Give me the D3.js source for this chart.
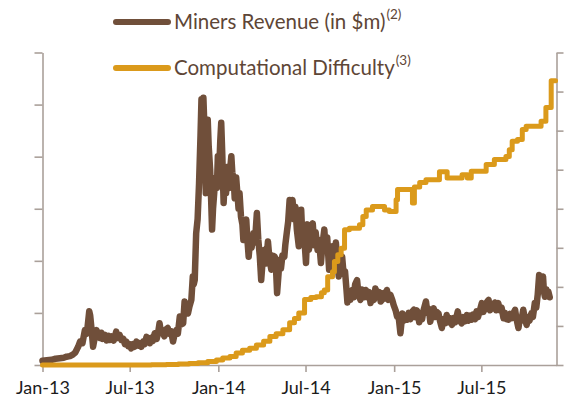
<!DOCTYPE html>
<html>
<head>
<meta charset="utf-8">
<script src="https://cdn.jsdelivr.net/npm/d3@7"></script>
<style>
  body { margin: 0; background: #fff; }
  svg { display: block; font-family: Lato, "Open Sans", sans-serif; }
</style>
</head>
<body>
<div id="chart"></div>
<script>
// miners revenue, $m per day (highs and lows of the band)
const revenue = [
  ["2013-01-01",0.08],["2013-01-10",0.09],["2013-01-20",0.10],["2013-01-28",0.12],["2013-02-06",0.13],["2013-02-14",0.14],
  ["2013-02-20",0.16],["2013-02-27",0.17],["2013-03-05",0.20],["2013-03-10",0.24],["2013-03-16",0.35],["2013-03-20",0.45],
  ["2013-03-25",0.42],["2013-03-30",0.67],["2013-04-03",0.60],["2013-04-06",0.85],["2013-04-08",1.03],["2013-04-10",0.95],
  ["2013-04-13",0.67],["2013-04-16",0.35],["2013-04-19",0.50],["2013-04-23",0.67],["2013-04-26",0.55],["2013-04-30",0.52],
  ["2013-05-03",0.62],["2013-05-06",0.50],["2013-05-10",0.58],["2013-05-14",0.47],["2013-05-18",0.56],["2013-05-21",0.48],
  ["2013-05-25",0.55],["2013-05-29",0.47],["2013-06-03",0.64],["2013-06-06",0.52],["2013-06-10",0.58],["2013-06-14",0.48],
  ["2013-06-18",0.50],["2013-06-21",0.40],["2013-06-24",0.45],["2013-06-28",0.36],["2013-07-01",0.40],["2013-07-04",0.32],
  ["2013-07-08",0.40],["2013-07-11",0.35],["2013-07-15",0.45],["2013-07-19",0.37],["2013-07-22",0.42],["2013-07-25",0.35],
  ["2013-07-29",0.45],["2013-08-01",0.40],["2013-08-05",0.54],["2013-08-08",0.45],["2013-08-12",0.42],["2013-08-15",0.52],
  ["2013-08-18",0.46],["2013-08-22",0.61],["2013-08-26",0.50],["2013-08-29",0.62],["2013-09-01",0.80],["2013-09-04",0.62],
  ["2013-09-08",0.61],["2013-09-11",0.55],["2013-09-14",0.68],["2013-09-18",0.71],["2013-09-21",0.60],["2013-09-25",0.65],
  ["2013-09-29",0.45],["2013-10-02",0.58],["2013-10-06",0.67],["2013-10-09",0.60],["2013-10-13",0.93],["2013-10-16",0.78],
  ["2013-10-20",0.80],["2013-10-23",1.22],["2013-10-26",1.05],["2013-10-30",0.99],["2013-11-02",1.12],["2013-11-06",1.25],
  ["2013-11-09",1.70],["2013-11-11",1.55],["2013-11-13",1.63],["2013-11-16",2.53],["2013-11-19",2.80],["2013-11-22",3.49],
  ["2013-11-25",4.40],["2013-11-27",5.10],["2013-11-29",4.80],["2013-12-01",5.13],["2013-12-03",4.60],["2013-12-06",3.30],
  ["2013-12-08",4.10],["2013-12-10",4.71],["2013-12-12",4.20],["2013-12-15",3.75],["2013-12-17",3.20],["2013-12-19",2.60],
  ["2013-12-21",3.00],["2013-12-24",3.37],["2013-12-27",3.60],["2013-12-29",3.40],["2013-12-31",4.01],
  ["2014-01-03",3.80],["2014-01-05",4.30],["2014-01-07",4.65],["2014-01-09",4.10],["2014-01-12",3.11],["2014-01-14",3.50],
  ["2014-01-17",3.30],["2014-01-19",3.80],["2014-01-21",3.69],["2014-01-24",3.40],["2014-01-26",3.80],["2014-01-28",4.01],
  ["2014-01-30",3.70],["2014-02-02",3.56],["2014-02-04",3.20],["2014-02-07",3.60],["2014-02-10",3.24],["2014-02-12",3.00],
  ["2014-02-14",3.30],["2014-02-17",2.85],["2014-02-20",2.70],["2014-02-22",2.40],["2014-02-25",2.70],["2014-02-28",2.79],
  ["2014-03-02",2.45],["2014-03-05",2.08],["2014-03-08",2.40],["2014-03-11",2.25],["2014-03-15",2.53],["2014-03-18",2.35],
  ["2014-03-22",2.92],["2014-03-25",2.40],["2014-03-28",2.10],["2014-03-31",1.63],["2014-04-03",2.00],["2014-04-07",2.21],
  ["2014-04-10",1.95],["2014-04-14",2.37],["2014-04-17",2.05],["2014-04-21",1.83],["2014-04-24",2.10],["2014-04-28",2.08],
  ["2014-05-01",1.80],["2014-05-03",1.38],["2014-05-06",1.75],["2014-05-08",2.02],["2014-05-11",1.85],["2014-05-14",2.10],
  ["2014-05-18",2.08],["2014-05-20",2.30],["2014-05-23",2.53],["2014-05-26",2.75],["2014-05-29",3.17],["2014-06-01",2.90],
  ["2014-06-04",3.17],["2014-06-07",2.80],["2014-06-10",3.04],["2014-06-13",2.60],["2014-06-17",2.28],["2014-06-20",2.70],
  ["2014-06-22",2.98],["2014-06-25",2.34],["2014-06-28",2.50],["2014-07-02",1.96],["2014-07-05",2.70],["2014-07-08",2.21],
  ["2014-07-12",2.50],["2014-07-16",2.72],["2014-07-19",2.30],["2014-07-22",2.55],["2014-07-26",2.21],["2014-07-29",2.40],
  ["2014-08-02",1.96],["2014-08-05",2.30],["2014-08-09",2.60],["2014-08-12",2.20],["2014-08-15",2.45],["2014-08-19",1.83],
  ["2014-08-22",2.15],["2014-08-26",2.28],["2014-08-29",1.95],["2014-09-02",2.35],["2014-09-05",2.00],["2014-09-08",1.70],
  ["2014-09-11",1.95],["2014-09-15",2.08],["2014-09-18",1.75],["2014-09-21",1.80],["2014-09-24",1.45],["2014-09-26",1.20],
  ["2014-09-29",1.40],["2014-10-02",1.25],["2014-10-06",1.44],["2014-10-09",1.30],["2014-10-12",1.55],["2014-10-16",1.63],
  ["2014-10-19",1.35],["2014-10-23",1.25],["2014-10-26",1.45],["2014-10-30",1.30],["2014-11-03",1.44],["2014-11-06",1.30],
  ["2014-11-10",1.40],["2014-11-13",1.19],["2014-11-17",1.35],["2014-11-20",1.25],["2014-11-23",1.47],["2014-11-27",1.30],
  ["2014-12-01",1.40],["2014-12-04",1.22],["2014-12-07",1.25],["2014-12-10",1.38],["2014-12-13",1.28],["2014-12-17",1.44],
  ["2014-12-20",1.25],["2014-12-24",1.35],["2014-12-28",1.25],["2014-12-31",1.15],
  ["2015-01-04",1.05],["2015-01-07",0.93],["2015-01-10",0.95],["2015-01-14",0.61],["2015-01-16",0.80],["2015-01-18",0.99],
  ["2015-01-21",0.85],["2015-01-24",0.95],["2015-01-28",0.87],["2015-01-31",1.00],["2015-02-04",0.88],["2015-02-07",1.02],
  ["2015-02-11",1.06],["2015-02-14",0.92],["2015-02-17",1.05],["2015-02-19",1.00],["2015-02-22",0.82],["2015-02-25",0.95],
  ["2015-02-28",0.88],["2015-03-03",1.05],["2015-03-08",1.22],["2015-03-11",1.00],["2015-03-14",1.08],["2015-03-17",0.83],
  ["2015-03-20",0.98],["2015-03-24",1.09],["2015-03-27",0.92],["2015-03-30",1.02],["2015-04-03",0.99],["2015-04-06",0.85],
  ["2015-04-10",0.71],["2015-04-13",0.88],["2015-04-17",0.80],["2015-04-20",0.96],["2015-04-23",0.82],["2015-04-27",0.90],
  ["2015-05-01",0.77],["2015-05-04",0.90],["2015-05-08",0.82],["2015-05-13",1.03],["2015-05-16",0.88],["2015-05-21",0.80],
  ["2015-05-24",0.92],["2015-05-28",0.84],["2015-06-01",0.96],["2015-06-04",0.85],["2015-06-08",0.95],["2015-06-11",0.87],
  ["2015-06-14",0.97],["2015-06-18",0.88],["2015-06-21",1.03],["2015-06-24",0.92],["2015-06-28",1.05],["2015-07-02",1.19],
  ["2015-07-05",1.02],["2015-07-09",1.09],["2015-07-12",1.20],["2015-07-16",1.25],["2015-07-19",1.05],["2015-07-22",1.15],
  ["2015-07-26",1.09],["2015-07-29",1.20],["2015-08-01",1.05],["2015-08-05",1.19],["2015-08-09",1.05],["2015-08-12",1.10],
  ["2015-08-16",0.90],["2015-08-19",1.00],["2015-08-22",0.88],["2015-08-26",0.87],["2015-08-30",0.98],["2015-09-02",0.90],
  ["2015-09-06",1.00],["2015-09-09",1.06],["2015-09-12",0.88],["2015-09-16",0.71],["2015-09-19",0.90],["2015-09-22",0.85],
  ["2015-09-26",1.06],["2015-09-29",0.90],["2015-10-03",0.77],["2015-10-06",0.92],["2015-10-09",0.85],["2015-10-13",0.99],
  ["2015-10-16",0.92],["2015-10-20",1.19],["2015-10-23",1.10],["2015-10-26",1.35],["2015-10-29",1.73],["2015-11-01",1.60],
  ["2015-11-03",1.51],["2015-11-06",1.70],["2015-11-08",1.40],["2015-11-10",1.31],["2015-11-13",1.45],["2015-11-15",1.35],
  ["2015-11-17",1.41],["2015-11-20",1.30]
];

// computational difficulty, billions (step changes)
const difficulty = [
  ["2013-01-01",0.003],["2013-04-01",0.008],["2013-07-01",0.03],["2013-08-15",0.07],["2013-09-15",0.15],["2013-10-10",0.27],
  ["2013-11-01",0.4],["2013-11-20",0.6],["2013-12-10",0.9],["2013-12-28",1.3],["2014-01-10",1.8],["2014-01-25",2.2],
  ["2014-02-07",3.1],["2014-02-20",3.8],["2014-03-07",4.3],["2014-03-21",5.1],["2014-04-05",6.1],["2014-04-18",7.3],
  ["2014-05-01",8.0],["2014-05-15",9.0],["2014-05-29",10.8],["2014-06-08",11.9],["2014-06-17",13.3],["2014-06-29",16.8],
  ["2014-07-12",17.3],["2014-07-23",17.5],["2014-08-03",18.5],["2014-08-09",19.2],["2014-08-16",22.6],["2014-08-26",23.9],
  ["2014-08-30",26.5],["2014-09-06",28.2],["2014-09-13",29.9],["2014-09-20",34.6],["2014-09-30",35.0],["2014-10-21",35.9],
  ["2014-10-28",38.0],["2014-11-04",39.7],["2014-11-17",40.6],["2014-12-12",39.7],["2014-12-22",39.3],["2015-01-05",42.3],
  ["2015-01-08",44.9],["2015-02-08",41.5],["2015-02-12",45.6],["2015-02-23",46.7],["2015-03-08",47.4],["2015-04-05",49.5],
  ["2015-04-21",47.9],["2015-05-22",48.7],["2015-06-02",47.9],["2015-06-10",49.6],["2015-07-11",51.3],["2015-07-28",52.6],
  ["2015-08-21",53.4],["2015-08-28",55.1],["2015-09-03",57.3],["2015-09-14",57.7],["2015-09-24",60.3],["2015-10-02",61.1],
  ["2015-11-02",62.4],["2015-11-12",65.9],["2015-11-23",72.8],["2015-12-02",72.8]
];

const xTicks = ["2013-01-01","2013-07-01","2014-01-01","2014-07-01","2015-01-01","2015-07-01"];
const xTickLabels = ["Jan-13","Jul-13","Jan-14","Jul-14","Jan-15","Jul-15"];
const leftTicks = [0, 1, 2, 3, 4, 5, 6];
const rightTicks = [0, 10, 20, 30, 40, 50, 60, 70, 80];
const seriesNames = ["Miners Revenue (in $m)", "Computational Difficulty"];
const seriesNotes = ["(2)", "(3)"];
const seriesColors = ["#704f3a", "#db9a1b"];

const width = 564, height = 403;
const margin = {left: 42.5, right: 7.5, top: 52.5, bottom: 38};
const axisColor = "#aaa09a";

const parse = d3.utcParse("%Y-%m-%d");
const rev = revenue.map(d => ({date: parse(d[0]), value: d[1]}));
const diff = difficulty.map(d => ({date: parse(d[0]), value: d[1]}));

const svg = d3.select("#chart").append("svg")
    .attr("width", width)
    .attr("height", height);

const xScale = d3.scaleUtc()
    .domain([parse("2013-01-01"), parse("2015-12-04")])
    .range([margin.left, width - margin.right]);
const yLeft = d3.scaleLinear()
    .domain([0, 6])
    .range([height - margin.bottom, margin.top]);
const yRight = d3.scaleLinear()
    .domain([0, 80])
    .range([height - margin.bottom, margin.top]);

// axes
const yB = height - margin.bottom;
const gx = svg.append("g")
    .attr("transform", "translate(0," + yB + ")")
    .call(d3.axisBottom(xScale)
        .tickValues(xTicks.map(parse))
        .tickFormat((d, i) => xTickLabels[i])
        .tickSize(7).tickSizeOuter(0).tickPadding(9));
gx.selectAll("text").attr("font-size", 18).attr("fill", "#1c1c1c")
    .attr("font-family", "Lato, sans-serif");

svg.append("g")
    .attr("transform", "translate(" + margin.left + ",0)")
    .call(d3.axisLeft(yLeft).tickValues(leftTicks).tickFormat("").tickSize(8).tickSizeOuter(0));

svg.append("g")
    .attr("transform", "translate(" + (width - margin.right) + ",0)")
    .call(d3.axisRight(yRight).tickValues(rightTicks).tickFormat("").tickSize(7).tickSizeOuter(0));

svg.selectAll(".domain, .tick line")
    .attr("stroke", axisColor)
    .attr("stroke-width", 1.6);

// lines
const revLine = d3.line()
    .x(d => xScale(d.date))
    .y(d => yLeft(d.value));
const diffLine = d3.line()
    .curve(d3.curveStepAfter)
    .x(d => xScale(d.date))
    .y(d => yRight(d.value));

svg.append("path")
    .datum(rev)
    .attr("fill", "none")
    .attr("stroke", seriesColors[0])
    .attr("stroke-width", 6.5)
    .attr("stroke-linejoin", "round")
    .attr("stroke-linecap", "round")
    .attr("d", revLine);

svg.append("path")
    .datum(diff)
    .attr("fill", "none")
    .attr("stroke", seriesColors[1])
    .attr("stroke-width", 5)
    .attr("stroke-linejoin", "round")
    .attr("stroke-linecap", "round")
    .attr("d", diffLine);

// legend
const legend = svg.append("g");
const legendY = [22, 68];
seriesNames.forEach((name, i) => {
    legend.append("line")
        .attr("x1", 116).attr("x2", 168)
        .attr("y1", legendY[i]).attr("y2", legendY[i])
        .attr("stroke", seriesColors[i])
        .attr("stroke-width", 6)
        .attr("stroke-linecap", "round");
    const t = legend.append("text")
        .attr("x", 174)
        .attr("y", legendY[i] + 7)
        .attr("fill", "#5e4636")
        .attr("font-size", 20.5);
    t.append("tspan").text(name);
    t.append("tspan")
        .attr("dx", 1)
        .attr("dy", -10)
        .attr("font-size", 13.5)
        .text(seriesNotes[i]);
});
</script>
</body>
</html>
